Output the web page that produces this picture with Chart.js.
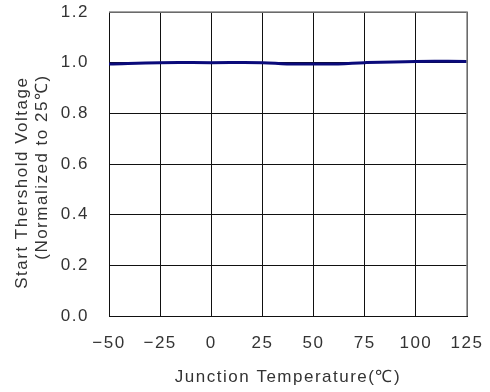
<!DOCTYPE html>
<html><head><meta charset="utf-8">
<script src="https://cdn.jsdelivr.net/npm/chart.js@4"></script>
<style>html,body{margin:0;padding:0;background:#fff}#wrap{width:490px;height:392px}</style>
</head><body><div id="wrap"><canvas id="c" width="490" height="392"></canvas></div>
<script>
const temperatures = [-50, -25, 0, 25, 37, 50, 62, 75, 100, 125];
const normalizedVth = [0.995, 1.0, 1.0, 1.0, 0.995, 0.995, 0.995, 1.0, 1.005, 1.005];
const xTicks = [-50, -25, 0, 25, 50, 75, 100, 125];
const yTicks = [0, 0.2, 0.4, 0.6, 0.8, 1.0, 1.2];

const font = "'Liberation Sans', Arial, sans-serif";
const spacing = {
  id: 'spacing',
  beforeLayout(chart) { chart.ctx.letterSpacing = '1.5px'; },
  beforeDraw(chart) { chart.ctx.letterSpacing = '1.5px'; }
};
new Chart(document.getElementById('c'), {
  type: 'line',
  data: { datasets: [{
    data: temperatures.map((t, i) => ({ x: t, y: normalizedVth[i] })),
    borderColor: '#0a0a7a', borderWidth: 3, pointRadius: 0, tension: 0.4, fill: false
  }]},
  options: {
    responsive: false, animation: false,
    layout: { padding: { top: 12, right: 23, left: 0, bottom: 0 } },
    plugins: { legend: { display: false }, tooltip: { enabled: false } },
    scales: {
      x: {
        type: 'linear', min: -50, max: 125,
        afterBuildTicks: s => { s.ticks = xTicks.map(v => ({ value: v })); },
        afterFit: s => { s.height = 76; },
        grid: { color: '#111', lineWidth: 1, drawTicks: true, tickLength: 17, tickColor: 'rgba(0,0,0,0)' },
        border: { color: '#111', width: 1 },
        ticks: { padding: 0, color: '#333', font: { family: font, size: 17 }, maxRotation: 0,
                 callback: v => String(v).replace('-', '\u2212') },
        title: { display: true, text: 'Junction Temperature(℃)', color: '#333', font: { family: font, size: 17 }, padding: { top: 9 } }
      },
      y: {
        min: 0, max: 1.2,
        afterBuildTicks: s => { s.ticks = yTicks.map(v => ({ value: v })); },
        afterFit: s => { s.width = 109; },
        grid: { color: '#111', lineWidth: 1, drawTicks: true, tickLength: 20, tickColor: 'rgba(0,0,0,0)' },
        border: { color: '#111', width: 1 },
        ticks: { padding: 0, color: '#333', font: { family: font, size: 17 }, callback: v => v.toFixed(1) },
        title: { display: true, text: ['Start Thershold Voltage      ', '(Normalized to 25℃) '], color: '#333', font: { family: font, size: 17, lineHeight: 1.15 }, padding: { top: 13, bottom: 0 } }
      }
    }
  },
  plugins: [spacing, {
    id: 'frame',
    afterDraw(chart) {
      const { ctx, chartArea: a } = chart;
      ctx.save(); ctx.strokeStyle = '#888'; ctx.lineWidth = 1.5;
      ctx.beginPath(); ctx.moveTo(a.left, a.top); ctx.lineTo(a.right, a.top); ctx.lineTo(a.right, a.bottom); ctx.stroke();
      ctx.restore();
    }
  }]
});
</script></body></html>
